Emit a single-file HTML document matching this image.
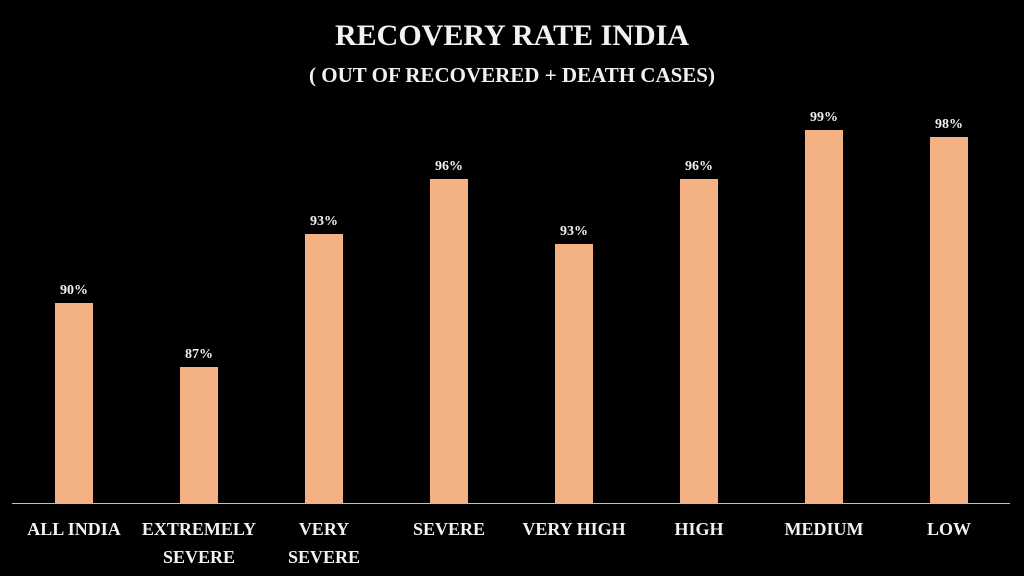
<!DOCTYPE html>
<html><head><style>
html,body{margin:0;padding:0;background:#000;width:1024px;height:576px;overflow:hidden}
svg{display:block}
svg text{font-family:"Liberation Serif",serif;font-weight:bold;fill:#f2f2f2}
</style></head><body>
<svg width="1024" height="576" xmlns="http://www.w3.org/2000/svg">
<rect width="1024" height="576" fill="#000"/>
<text x="512" y="45" text-anchor="middle" font-size="30">RECOVERY RATE INDIA</text>
<text x="512" y="82" text-anchor="middle" font-size="21">( OUT OF RECOVERED + DEATH CASES)</text>
<g fill="#f4b183">
<rect x="55" y="303" width="38" height="200"/>
<rect x="180" y="367" width="38" height="136"/>
<rect x="305" y="234" width="38" height="269"/>
<rect x="430" y="179" width="38" height="324"/>
<rect x="555" y="244" width="38" height="259"/>
<rect x="680" y="179" width="38" height="324"/>
<rect x="805" y="130" width="38" height="373"/>
<rect x="930" y="137" width="38" height="366"/>
</g>
<line x1="12" y1="503.5" x2="1010" y2="503.5" stroke="#bfbfbf" stroke-width="1"/>
<g font-size="14" text-anchor="middle">
<text x="74" y="294">90%</text>
<text x="199" y="358">87%</text>
<text x="324" y="225">93%</text>
<text x="449" y="170">96%</text>
<text x="574" y="235">93%</text>
<text x="699" y="170">96%</text>
<text x="824" y="121">99%</text>
<text x="949" y="128">98%</text>
</g>
<g font-size="18" text-anchor="middle">
<text x="74" y="535">ALL INDIA</text>
<text x="199" y="535">EXTREMELY</text>
<text x="199" y="563">SEVERE</text>
<text x="324" y="535">VERY</text>
<text x="324" y="563">SEVERE</text>
<text x="449" y="535">SEVERE</text>
<text x="574" y="535">VERY HIGH</text>
<text x="699" y="535">HIGH</text>
<text x="824" y="535">MEDIUM</text>
<text x="949" y="535">LOW</text>
</g>
</svg>
</body></html>
